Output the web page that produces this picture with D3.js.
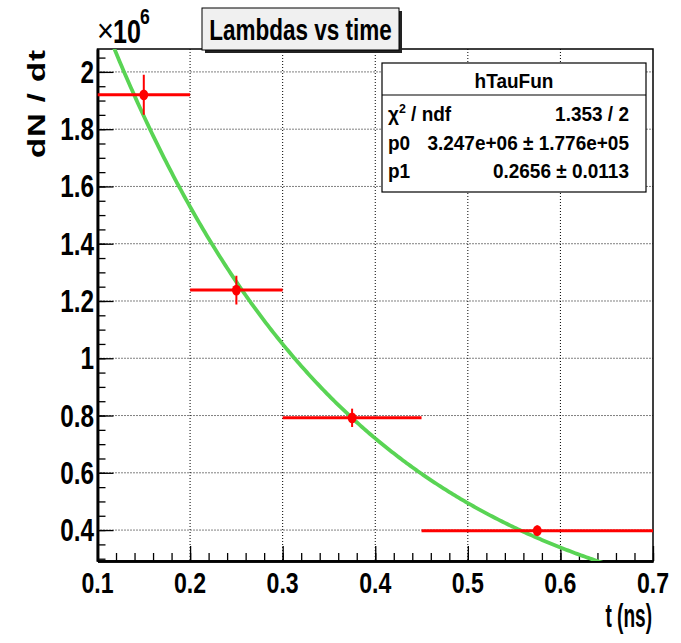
<!DOCTYPE html>
<html>
<head>
<meta charset="utf-8">
<script src="https://cdn.jsdelivr.net/npm/d3@7"></script>
<style>
  html, body { margin: 0; padding: 0; background: #fff; }
  svg { display: block; }
  text { font-family: "Liberation Sans", Arial, Helvetica, sans-serif; font-weight: bold; fill: #000; }
</style>
</head>
<body>
<svg id="chart" width="681" height="643"></svg>
<script>
// Histogram bins (t in ns) and measured rate dN/dt in units of 10^6
const binLow  = [0.10, 0.20, 0.30, 0.45];
const binHigh = [0.20, 0.30, 0.45, 0.70];
const rate    = [1.920, 1.238, 0.792, 0.398];
const rateErr = [0.070, 0.050, 0.032, 0.018];

// Axis tick labels
const xTicks = [0.1, 0.2, 0.3, 0.4, 0.5, 0.6, 0.7];
const yTicks = [0.4, 0.6, 0.8, 1.0, 1.2, 1.4, 1.6, 1.8, 2.0];

// Exponential fit p0 * exp(-t / p1)
const fitName = "hTauFun";
const fitP0 = 3.247e6;
const fitP1 = 0.2656;
const statLeft  = ["χ² / ndf", "p0", "p1"];
const statRight = ["1.353 / 2", "3.247e+06 ± 1.776e+05", "0.2656 ± 0.0113"];

const titleText = "Lambdas vs time";
const xTitle = "t (ns)";
const yTitle = "dN / dt";

const svg = d3.select("#chart");
const frame = { left: 97.5, right: 653, top: 49, bottom: 561 };

const x = d3.scaleLinear().domain([0.1, 0.7]).range([frame.left, frame.right]);
const y = d3.scaleLinear().domain([0.292, 2.08]).range([frame.bottom, frame.top]);

// horizontally condensed text helper
function label(parent, px, py, str, size, anchor, sx) {
  const g = parent.append("g").attr("transform", `translate(${px},${py}) scale(${sx},1)`);
  return g.append("text").attr("font-size", size).attr("text-anchor", anchor).text(str);
}

// grid
const grid = svg.append("g").attr("stroke", "#000").attr("stroke-width", 1).attr("stroke-dasharray", "1,2");
grid.selectAll("line.gx").data(xTicks.slice(1, -1)).join("line")
  .attr("x1", d => x(d)).attr("x2", d => x(d)).attr("y1", frame.top).attr("y2", frame.bottom);
grid.selectAll("line.gy").data(yTicks).join("line")
  .attr("y1", d => y(d)).attr("y2", d => y(d)).attr("x1", frame.left).attr("x2", frame.right);

// frame
svg.append("rect").attr("x", frame.left).attr("y", frame.top)
  .attr("width", frame.right - frame.left).attr("height", frame.bottom - frame.top)
  .attr("fill", "none").attr("stroke", "#000").attr("stroke-width", 1.5);

// axes: inward ticks
const xMinor = d3.range(0, 31).map(i => 0.1 + i * 0.02);
const yMinor = d3.range(0, 36).map(i => 0.3 + i * 0.05);
function styleAxis(g) {
  g.select(".domain").attr("stroke-width", 2.5);
  g.selectAll(".tick line").attr("stroke-width", 1.3);
}
svg.append("g").attr("transform", `translate(0,${frame.bottom})`)
  .call(d3.axisTop(x).tickValues(xMinor).tickSize(8).tickSizeOuter(0).tickFormat(""))
  .call(styleAxis);
svg.append("g").attr("transform", `translate(0,${frame.bottom})`)
  .call(d3.axisTop(x).tickValues(xTicks).tickSize(15).tickSizeOuter(0).tickFormat(""))
  .call(styleAxis);
svg.append("g").attr("transform", `translate(${frame.left},0)`)
  .call(d3.axisRight(y).tickValues(yMinor).tickSize(8).tickSizeOuter(0).tickFormat(""))
  .call(styleAxis);
svg.append("g").attr("transform", `translate(${frame.left},0)`)
  .call(d3.axisRight(y).tickValues(yTicks).tickSize(16).tickSizeOuter(0).tickFormat(""))
  .call(styleAxis);

// tick labels
const fmt = d => d3.format("")(+d.toFixed(1));
xTicks.forEach(v => label(svg, x(v), 593, fmt(v), 30, "middle", 0.77));
yTicks.forEach(v => label(svg, 94, y(v) + 11, fmt(v), 32, "end", 0.76));

// exponent label
label(svg, 97, 42, "×", 34, "start", 0.85).style("font-weight", "normal");
label(svg, 113, 43, "10", 33, "start", 0.76);
label(svg, 140, 24, "6", 22, "start", 0.8);

// axis titles
label(svg, 652, 627, xTitle, 34, "end", 0.56);
svg.append("text")
  .attr("transform", `translate(45,50) scale(0.75,1) rotate(-90)`)
  .attr("font-size", 33).attr("text-anchor", "end")
  .attr("textLength", 108).attr("lengthAdjust", "spacing")
  .text(yTitle);

// clipped plotting area
svg.append("clipPath").attr("id", "plotClip").append("rect")
  .attr("x", frame.left).attr("y", frame.top)
  .attr("width", frame.right - frame.left).attr("height", frame.bottom - frame.top);
const plot = svg.append("g").attr("clip-path", "url(#plotClip)");

// fit curve
const fitT = d3.range(0, 301).map(i => 0.1 + i * 0.002);
plot.append("path")
  .datum(fitT)
  .attr("fill", "none").attr("stroke", "#59d454").attr("stroke-width", 3.8)
  .attr("d", d3.line().x(t => x(t)).y(t => y(fitP0 * Math.exp(-t / fitP1) / 1e6)));

// data points with errors
const pts = rate.map((v, i) => ({ lo: binLow[i], hi: binHigh[i], v, e: rateErr[i], c: (binLow[i] + binHigh[i]) / 2 }));
const pg = plot.append("g").attr("stroke", "#ff0000");
pg.selectAll("line.h").data(pts).join("line")
  .attr("x1", d => x(d.lo)).attr("x2", d => x(d.hi))
  .attr("y1", d => y(d.v)).attr("y2", d => y(d.v)).attr("stroke-width", 3);
pg.selectAll("line.v").data(pts).join("line")
  .attr("x1", d => x(d.c)).attr("x2", d => x(d.c))
  .attr("y1", d => y(d.v - d.e)).attr("y2", d => y(d.v + d.e)).attr("stroke-width", 2);
pg.selectAll("ellipse").data(pts).join("ellipse")
  .attr("cx", d => x(d.c)).attr("cy", d => y(d.v)).attr("rx", 4.4).attr("ry", 5.4)
  .attr("fill", "#ff0000").attr("stroke", "none");

// title box
svg.append("rect").attr("x", 205).attr("y", 11).attr("width", 197).attr("height", 42).attr("fill", "#222");
svg.append("rect").attr("x", 202).attr("y", 8).attr("width", 197).attr("height", 42)
  .attr("fill", "#f0f0f0").attr("stroke", "#000").attr("stroke-width", 1);
label(svg, 300.5, 40, titleText, 30, "middle", 0.75);

// statistics box
const sb = { x: 382, y: 63, w: 264, h: 129, head: 95 };
svg.append("rect").attr("x", sb.x).attr("y", sb.y).attr("width", sb.w).attr("height", sb.h)
  .attr("fill", "#fff").attr("stroke", "#000").attr("stroke-width", 1.2);
svg.append("line").attr("x1", sb.x).attr("x2", sb.x + sb.w).attr("y1", sb.head).attr("y2", sb.head)
  .attr("stroke", "#000").attr("stroke-width", 1.2);
label(svg, sb.x + sb.w / 2, 88, fitName, 20, "middle", 0.95);
const rowY = [121, 149.5, 178];
statLeft.forEach((s, i) => {
  if (i === 0) {
    const t = label(svg, 388, rowY[i], "", 20, "start", 0.95);
    t.append("tspan").text("χ");
    t.append("tspan").attr("font-size", 13).attr("dy", -8).text("2");
    t.append("tspan").attr("dy", 8).text(" / ndf");
  } else {
    label(svg, 388, rowY[i], s, 20, "start", 0.95);
  }
  label(svg, 629, rowY[i], statRight[i], 20, "end", 0.95);
});
</script>
</body>
</html>
